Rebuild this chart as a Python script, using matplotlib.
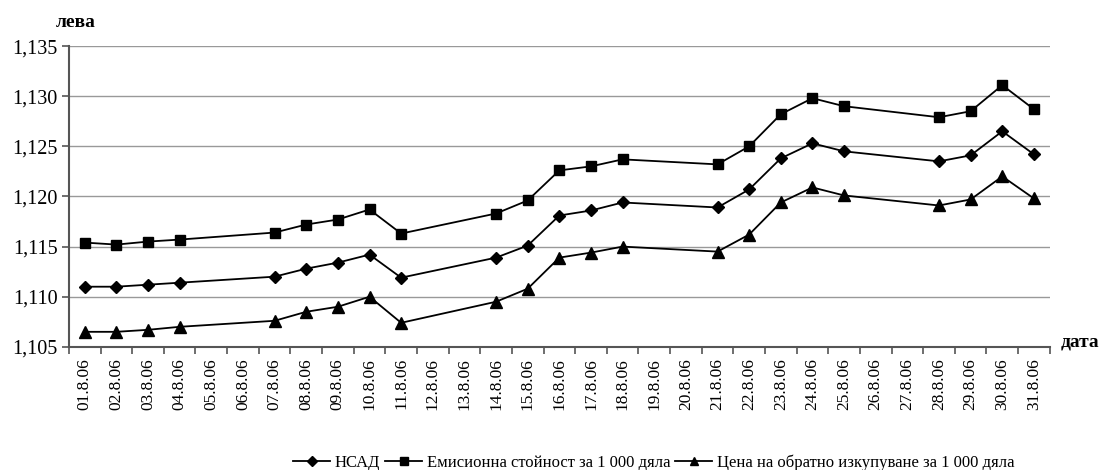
import numpy as np
import matplotlib
matplotlib.use("Agg")
import matplotlib.pyplot as plt

plt.rcParams['font.family'] = ['Liberation Serif', 'DejaVu Serif']

# categories (all days of August 2006)
dates = ["01.8.06", "02.8.06", "03.8.06", "04.8.06", "05.8.06", "06.8.06", "07.8.06",
         "08.8.06", "09.8.06", "10.8.06", "11.8.06", "12.8.06", "13.8.06", "14.8.06",
         "15.8.06", "16.8.06", "17.8.06", "18.8.06", "19.8.06", "20.8.06", "21.8.06",
         "22.8.06", "23.8.06", "24.8.06", "25.8.06", "26.8.06", "27.8.06", "28.8.06",
         "29.8.06", "30.8.06", "31.8.06"]

# days with data
data_dates = ["01.8.06", "02.8.06", "03.8.06", "04.8.06", "07.8.06", "08.8.06", "09.8.06",
              "10.8.06", "11.8.06", "14.8.06", "15.8.06", "16.8.06", "17.8.06", "18.8.06",
              "21.8.06", "22.8.06", "23.8.06", "24.8.06", "25.8.06", "28.8.06", "29.8.06",
              "30.8.06", "31.8.06"]

nsad = [1.1110, 1.1110, 1.1112, 1.1114, 1.1120, 1.1128, 1.1134, 1.1142, 1.1119, 1.1139,
        1.1151, 1.1181, 1.1186, 1.1194, 1.1189, 1.1207, 1.1238, 1.1253, 1.1245, 1.1235,
        1.1241, 1.1265, 1.1242]
emission = [1.1154, 1.1152, 1.1155, 1.1157, 1.1164, 1.1172, 1.1177, 1.1187, 1.1163, 1.1183,
            1.1196, 1.1226, 1.1230, 1.1237, 1.1232, 1.1250, 1.1282, 1.1298, 1.1290, 1.1279,
            1.1285, 1.1311, 1.1287]
redemption = [1.1065, 1.1065, 1.1067, 1.1070, 1.1076, 1.1085, 1.1090, 1.1100, 1.1074, 1.1095,
              1.1108, 1.1139, 1.1144, 1.1150, 1.1145, 1.1162, 1.1194, 1.1209, 1.1201, 1.1191,
              1.1197, 1.1220, 1.1198]

series_names = ["НСАД", "Емисионна стойност за 1 000 дяла",
                "Цена на обратно изкупуване за 1 000 дяла"]

x = [dates.index(d) for d in data_dates]

fig = plt.figure(figsize=(11.12, 4.70), dpi=100)
ax = fig.add_axes([0.062, 0.262, 0.882, 0.640])

ax.plot(x, nsad, color='black', lw=1.3, marker='D', ms=6.5, label=series_names[0])
ax.plot(x, emission, color='black', lw=1.3, marker='s', ms=7.5, label=series_names[1])
ax.plot(x, redemption, color='black', lw=1.3, marker='^', ms=8, label=series_names[2])

ax.set_xlim(-0.5, len(dates) - 0.5)
ax.set_ylim(1.105, 1.135)
yt = np.arange(1.105, 1.1351, 0.005)
ax.set_yticks(yt)
ax.set_yticklabels(["{:.3f}".format(v).replace(".", ",") for v in yt], fontsize=14.5)
ax.yaxis.grid(True, color='#999999', lw=1)
ax.set_axisbelow(True)

ax.set_xticks(range(len(dates)))
ax.set_xticklabels(dates, rotation=90, fontsize=12.5)
ax.set_xticks(np.arange(-0.5, len(dates)), minor=True)
ax.tick_params(axis='x', which='major', length=0, pad=8)
ax.tick_params(axis='x', which='minor', length=5, color='#555555', width=1.2)
ax.tick_params(axis='y', length=5, color='#555555', width=1.2, pad=3)

for s in ['top', 'right']:
    ax.spines[s].set_visible(False)
for s in ['left', 'bottom']:
    ax.spines[s].set_color('#555555')
    ax.spines[s].set_linewidth(1.5)

fig.text(0.050, 0.935, "лева", fontsize=14, fontweight='bold', ha='left', va='bottom')
fig.text(0.954, 0.272, "дата", fontsize=14, fontweight='bold', ha='left', va='center')

fig.legend(loc='center', bbox_to_anchor=(0.588, 0.016), ncol=3, frameon=False,
           fontsize=12, handlelength=2.2, handletextpad=0.3, columnspacing=0.3,
           markerscale=0.75, borderaxespad=0)

fig.savefig("out.png", dpi=100)
